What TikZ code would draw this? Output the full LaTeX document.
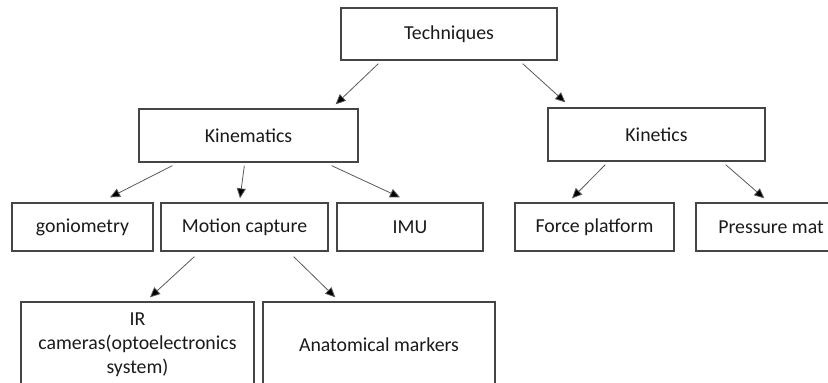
\documentclass[tikz,border=0pt]{standalone}
\usepackage{fontspec}
\setmainfont{Carlito}
\usetikzlibrary{arrows.meta,calc}
\definecolor{boxline}{HTML}{454545}
\definecolor{arrline}{HTML}{5A5A5A}
\definecolor{txt}{HTML}{1A1A1A}
\begin{document}
\begin{tikzpicture}[x=1pt,y=-1pt,
  box/.style={draw=boxline,line width=1.3pt,fill=white,text=txt,inner sep=0pt,
    font=\fontsize{19.8}{24}\selectfont,align=center},
  arr/.style={draw=arrline,line width=0.8pt,-{Triangle[length=10pt,width=9pt,fill=black]}}]
\clip (0,0) rectangle (828,383);
\fill[white] (0,0) rectangle (828,383);

% top level
\node[box,minimum width=216pt,minimum height=52pt] (tech) at (449,34) {Techniques};

% second level
\node[box,minimum width=219pt,minimum height=53pt] (kinem) at (248.5,135.5) {Kinematics};
\node[box,minimum width=217pt,minimum height=53pt] (kinet) at (656.5,134.5) {Kinetics};

% third level
\node[box,minimum width=141pt,minimum height=48pt] (gonio) at (82.5,227) {goniometry};
\node[box,minimum width=167pt,minimum height=48pt] (mocap) at (244.5,227) {Motion capture};
\node[box,minimum width=146pt,minimum height=48pt] (imu) at (410,227) {IMU};
\node[box,minimum width=159pt,minimum height=48pt] (force) at (594.5,227) {Force platform};
\node[box,minimum width=150pt,minimum height=48pt] (press) at (771,227) {Pressure mat};

% fourth level
\node[box,minimum width=233pt,minimum height=86pt] (ir) at (137.5,345) {IR\\cameras(optoelectronics\\system)};
\node[box,minimum width=232pt,minimum height=86pt] (anat) at (379,345) {Anatomical markers};

% connectors
\draw[arr] ($(tech.south west)+(38,3)$) -- ($(kinem.north east)+(-23,-4)$);
\draw[arr] ($(tech.south east)+(-35,3)$) -- ($(kinet.north west)+(18,-5)$);
\draw[arr] ($(kinem.south west)+(34,3)$) -- ($(gonio.north)+(27.5,-5)$);
\draw[arr] ($(kinem.south west)+(106,3)$) -- ($(mocap.north)+(-4.5,-4)$);
\draw[arr] ($(kinem.south east)+(-27,3)$) -- ($(imu.north)+(-10,-5)$);
\draw[arr] ($(kinet.south west)+(58,3)$) -- ($(force.north)+(-22.5,-4)$);
\draw[arr] ($(kinet.south east)+(-40,3)$) -- ($(press.north west)+(69,-4)$);
\draw[arr] ($(mocap.south west)+(34,5)$) -- ($(ir.north)+(12.5,-4)$);
\draw[arr] ($(mocap.south east)+(-35,5)$) -- ($(anat.north west)+(73,-4)$);
\end{tikzpicture}
\end{document}
